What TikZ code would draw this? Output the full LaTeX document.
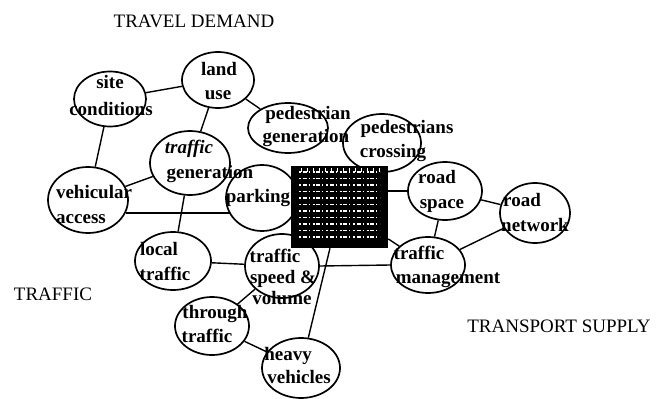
\documentclass[tikz,border=0pt]{standalone}
\usepackage{fontspec}
\setmainfont{Liberation Serif}
\usetikzlibrary{shapes.geometric}
\begin{document}
\begin{tikzpicture}[x=1pt,y=-1pt,
  bub/.style={draw, ellipse, line width=1.7pt, inner sep=0pt},
  lbl/.style={font=\fontsize{19}{22}\selectfont\bfseries, inner sep=0pt, anchor=base},
  hd/.style={font=\fontsize{19}{22}\selectfont, inner sep=0pt, anchor=base},
  link/.style={line width=1.4pt}]
\useasboundingbox (0,0) rectangle (665,399);

% headings
\node[hd] (hdemand) at (194,27) {TRAVEL DEMAND};
\node[hd] (htraffic) at (53,300) {TRAFFIC};
\node[hd] (hsupply) at (559,332) {TRANSPORT SUPPLY};

% bubbles
\node[bub, minimum width=72pt, minimum height=55pt] (sc) at (110,99) {};
\node[bub, minimum width=72pt, minimum height=56pt] (lu) at (218,80) {};
\node[bub, minimum width=80pt, minimum height=50pt] (pg) at (288,128) {};
\node[bub, minimum width=78pt, minimum height=58pt] (pc) at (382,143) {};
\node[bub, minimum width=80pt, minimum height=64pt] (tg) at (190,163) {};
\node[bub, minimum width=80pt, minimum height=66pt] (va) at (88,200) {};
\node[bub, minimum width=72pt, minimum height=66pt] (pk) at (262,198) {};
\node[bub, minimum width=74pt, minimum height=58pt] (rs) at (445,191) {};
\node[bub, minimum width=70pt, minimum height=60pt] (rn) at (535,213) {};
\node[bub, minimum width=74pt, minimum height=56pt] (tm) at (428,265) {};
\node[bub, minimum width=76pt, minimum height=58pt] (lt) at (173,261) {};
\node[bub, minimum width=74pt, minimum height=64pt] (sv) at (282,266) {};
\node[bub, minimum width=74pt, minimum height=58pt] (tt) at (212,326) {};
\node[bub, minimum width=78pt, minimum height=60pt] (hv) at (301,368) {};

% labels
\node[lbl] (sc1) at (110,88) {site};
\node[lbl] (sc2) at (111,115) {conditions};
\node[lbl] (lu1) at (219,75) {land};
\node[lbl] (lu2) at (218,99) {use};
\node[lbl] (pg1) at (308,119) {pedestrian};
\node[lbl] (pg2) at (306,142) {generation};
\node[lbl] (pc1) at (407,133) {pedestrians};
\node[lbl] (pc2) at (393,157) {crossing};
\node[lbl] (tg1) at (189,153) {\itshape traffic};
\node[lbl] (tg2) at (210,178) {generation};
\node[lbl] (va1) at (94,198) {vehicular};
\node[lbl] (va2) at (81,223) {access};
\node[lbl] (pk1) at (258,202) {parking};
\node[lbl] (lt1) at (159,255) {local};
\node[lbl] (lt2) at (165,280) {traffic};
\node[lbl] (sv1) at (275,262) {traffic};
\node[lbl] (sv2) at (283,283) {speed \&};
\node[lbl] (sv3) at (282,304) {volume};
\node[lbl] (tt1) at (215,318) {through};
\node[lbl] (tt2) at (207,342) {traffic};
\node[lbl] (hv1) at (288,360) {heavy};
\node[lbl] (hv2) at (299,383) {vehicles};
\node[lbl] (rs1) at (437,183) {road};
\node[lbl] (rs2) at (442,208) {space};
\node[lbl] (rn1) at (522,206) {road};
\node[lbl] (rn2) at (535,231) {network};
\node[lbl] (tm1) at (419,259) {traffic};
\node[lbl] (tm2) at (448,283) {management};

% connector end points on bubble borders
\coordinate (vaE) at (125.5,213);
\coordinate (pkW) at (229.5,213);

% connectors
\draw[link] (sc) -- (lu);
\draw[link] (sc) -- (va);
\draw[link] (lu) -- (tg);
\draw[link] (lu) -- (pg);
\draw[link] (tg) -- (va);
\draw[link] (tg) -- (lt);
\draw[link] (vaE) -- (pkW);
\draw[link] (lt) -- (sv);
\draw[link] (sv) -- (tt);
\draw[link] (tt) -- (hv);
\draw[link] (sv.east) -- (tm.west);
\draw[link] (rs) -- (rn);
\draw[link] (rs) -- (tm);
\draw[link] (rn) -- (tm);

% central box
\node[draw=black, fill=black, line width=2.5pt, minimum width=95pt, minimum height=80pt, inner sep=0pt,
  path picture={
    \foreach \r in {0,...,10} {
      \draw[white, line width=1.1pt, dash pattern=on 2pt off 1.5pt on 4pt off 2pt on 1pt off 3pt]
        ([xshift=7pt, yshift=-5pt-\r*6.5pt]path picture bounding box.north west) -- ++(81pt,0pt);
    }
    \foreach \c in {0,...,13} {
      \draw[white, line width=0.9pt, dash pattern=on 5pt off 2pt on 2pt off 4pt]
        ([xshift=9pt+\c*6pt, yshift=-5pt]path picture bounding box.north west) -- ++(0pt,68pt);
    }
  }] (hub) at (339.5,207) {};

\draw[link] (hub.east |- rs.west) -- (rs.west);
\draw[link] (hub) -- (tm);
\draw[link] (hub.-103) -- (hv);
\end{tikzpicture}
\end{document}
